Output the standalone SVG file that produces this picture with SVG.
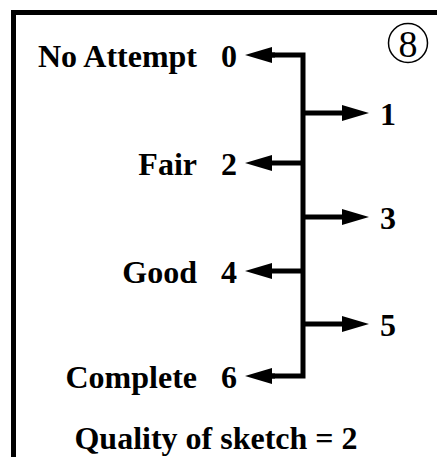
<svg xmlns="http://www.w3.org/2000/svg" width="437" height="457" viewBox="0 0 437 457">
<style>
.lbl{font-family:"Liberation Serif","Times New Roman",serif;font-weight:bold;font-size:32px;fill:#000}
.ln{stroke:#000;stroke-width:5;fill:none}
</style>
<defs>
<marker id="ah" markerUnits="userSpaceOnUse" markerWidth="30" markerHeight="20" refX="0" refY="8" orient="auto" viewBox="0 0 30 16" overflow="visible">
<path d="M0,0 L27,8 L0,16 Z" fill="#000"/>
</marker>
</defs>
<rect x="13.5" y="12.5" width="600" height="600" fill="#fff" stroke="#000" stroke-width="5"/>
<g id="badge">
<circle cx="408" cy="43" r="19.5" fill="none" stroke="#000" stroke-width="1.5"/>
<text x="408" y="57" text-anchor="middle" font-family="Liberation Serif, serif" font-size="38">8</text>
</g>
<g id="connectors">
<path class="ln" d="M272,55 H303 V376 H272" stroke-linejoin="miter"/>
<path class="ln" d="M275,55 H272" marker-end="url(#ah)"/>
<path class="ln" d="M303,163 H272" marker-end="url(#ah)"/>
<path class="ln" d="M303,271 H272" marker-end="url(#ah)"/>
<path class="ln" d="M275,376 H272" marker-end="url(#ah)"/>
<path class="ln" d="M303,113 H342" marker-end="url(#ah)"/>
<path class="ln" d="M303,217 H342" marker-end="url(#ah)"/>
<path class="ln" d="M303,324 H342" marker-end="url(#ah)"/>
</g>
<g id="n0"><text class="lbl" x="197" y="67" text-anchor="end">No Attempt</text><text class="lbl" x="221" y="67">0</text></g>
<g id="n1"><text class="lbl" x="380" y="125">1</text></g>
<g id="n2"><text class="lbl" x="197" y="175" text-anchor="end">Fair</text><text class="lbl" x="221" y="175">2</text></g>
<g id="n3"><text class="lbl" x="380" y="229">3</text></g>
<g id="n4"><text class="lbl" x="197" y="283" text-anchor="end">Good</text><text class="lbl" x="221" y="283">4</text></g>
<g id="n5"><text class="lbl" x="380" y="336">5</text></g>
<g id="n6"><text class="lbl" x="197" y="388" text-anchor="end">Complete</text><text class="lbl" x="221" y="388">6</text></g>
<g id="result"><text class="lbl" x="216" y="449" text-anchor="middle">Quality of sketch = 2</text></g>
</svg>
